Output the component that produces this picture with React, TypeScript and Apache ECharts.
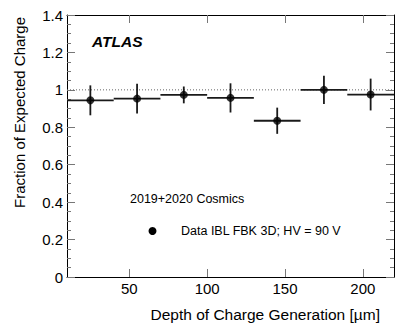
import React, { useEffect, useRef } from "react";
import * as echarts from "echarts";

const binLow = [10, 40, 70, 100, 130, 160, 190];
const binHigh = [40, 70, 100, 130, 160, 190, 220];
const binCenter = [25, 55, 85, 115, 145, 175, 205];
const fraction = [0.944, 0.953, 0.973, 0.957, 0.835, 1.0, 0.975];
const fractionErr = [0.08, 0.08, 0.045, 0.078, 0.07, 0.075, 0.085];
const xTicks = [50, 100, 150, 200];
const referenceLevel = 1;
const seriesName = "Data IBL FBK 3D; HV = 90 V";
const datasetLabel = "2019+2020 Cosmics";

const FONT = "'Liberation Sans', Arial, Helvetica, sans-serif";

export default function App() {
  const ref = useRef<HTMLDivElement>(null);
  useEffect(() => {
    if (!ref.current) return;
    const chart = echarts.init(ref.current, undefined, { renderer: "svg" });
    const barData = binCenter.map((c, i) => [c, fraction[i], binLow[i], binHigh[i], fractionErr[i]]);
    const xAxisBase = (pos: "bottom" | "top", showLabel: boolean) => ({
      type: "value",
      position: pos,
      min: 10,
      max: 220,
      axisLine: { show: true, onZero: false, lineStyle: { color: "#000", width: 1 } },
      axisTick: { show: true, inside: true, length: 8, customValues: xTicks, lineStyle: { color: "#777", width: 1 } },
      axisLabel: { show: showLabel, customValues: xTicks, fontSize: 15, color: "#000", margin: 4, fontFamily: FONT },
      splitLine: { show: false },
    });
    const yAxisBase = (pos: "left" | "right", showLabel: boolean) => ({
      type: "value",
      position: pos,
      min: 0,
      max: 1.4,
      interval: 0.2,
      axisLine: { show: true, onZero: false, lineStyle: { color: "#000", width: 1 } },
      axisTick: { show: true, inside: true, length: 8, lineStyle: { color: "#777", width: 1 } },
      minorTick: { show: true, splitNumber: 4, length: 4, lineStyle: { color: "#777", width: 1 } },
      axisLabel: {
        show: showLabel,
        fontSize: 15,
        color: "#000",
        margin: 4,
        fontFamily: FONT,
        formatter: (v: number) => String(Math.round(v * 10) / 10),
      },
      splitLine: { show: false },
      minorSplitLine: { show: false },
    });
    chart.setOption({
      animation: false,
      backgroundColor: "#fff",
      grid: { left: 67, right: 21, top: 15, bottom: 53, containLabel: false },
      xAxis: [xAxisBase("bottom", true), xAxisBase("top", false)],
      yAxis: [yAxisBase("left", true), yAxisBase("right", false)],
      series: [
        {
          type: "line",
          data: [[10, referenceLevel], [220, referenceLevel]],
          symbol: "none",
          lineStyle: { type: [1, 2], color: "#666", width: 1 },
          silent: true,
          z: 1,
        },
        {
          type: "custom",
          data: barData,
          encode: { x: 0, y: 1 },
          z: 3,
          renderItem: (params: any, api: any) => {
            const c = api.value(0);
            const v = api.value(1);
            const lo = api.value(2);
            const hi = api.value(3);
            const e = api.value(4);
            const pL = api.coord([lo, v]);
            const pR = api.coord([hi, v]);
            const pT = api.coord([c, v + e]);
            const pB = api.coord([c, v - e]);
            const style = { stroke: "#1a1a1a", lineWidth: 1.8 };
            return {
              type: "group",
              children: [
                { type: "line", shape: { x1: pL[0], y1: pL[1], x2: pR[0], y2: pR[1] }, style },
                { type: "line", shape: { x1: pT[0], y1: pT[1], x2: pB[0], y2: pB[1] }, style },
              ],
            };
          },
        },
        {
          type: "scatter",
          name: seriesName,
          data: binCenter.map((c, i) => [c, fraction[i]]),
          symbol: "circle",
          symbolSize: 8,
          itemStyle: { color: "#000" },
          z: 4,
        },
      ],
      graphic: [
        {
          type: "text",
          x: 92,
          y: 41,
          style: { text: "ATLAS", font: `italic bold 15.5px ${FONT}`, fill: "#000", textAlign: "left", textVerticalAlign: "middle" },
        },
        {
          type: "text",
          x: 130,
          y: 199,
          style: { text: datasetLabel, font: `12.5px ${FONT}`, fill: "#000", textAlign: "left", textVerticalAlign: "middle" },
        },
        {
          type: "circle",
          shape: { cx: 152.5, cy: 231, r: 4 },
          style: { fill: "#000" },
        },
        {
          type: "text",
          x: 181,
          y: 231,
          style: { text: seriesName, font: `12.5px ${FONT}`, fill: "#000", textAlign: "left", textVerticalAlign: "middle" },
        },
        {
          type: "text",
          x: 19,
          y: 17,
          rotation: Math.PI / 2,
          style: { text: "Fraction of Expected Charge", font: `15px ${FONT}`, fill: "#000", textAlign: "right", textVerticalAlign: "middle" },
        },
        {
          type: "text",
          x: 380,
          y: 314,
          style: { text: "Depth of Charge Generation [µm]", font: `15.5px ${FONT}`, fill: "#000", textAlign: "right", textVerticalAlign: "middle" },
        },
      ],
    });
    return () => chart.dispose();
  }, []);
  return <div ref={ref} style={{ position: "fixed", left: 0, top: 0, width: 415, height: 330 }} />;
}
